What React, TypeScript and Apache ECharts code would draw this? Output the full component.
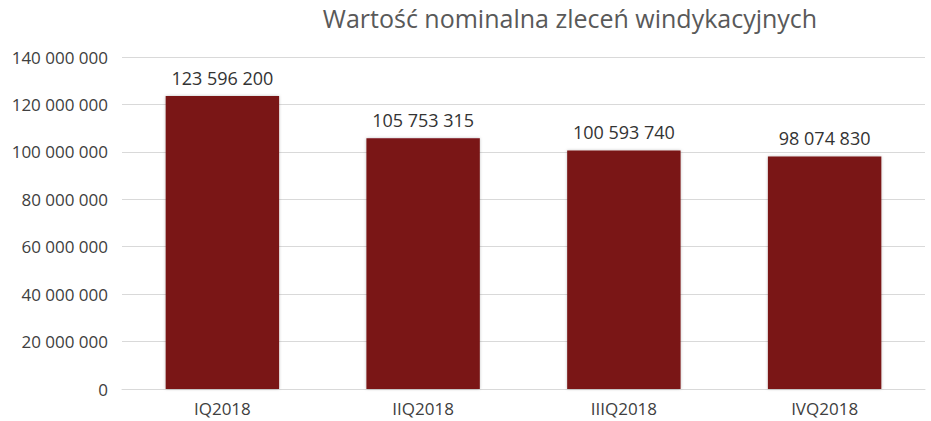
import React, { useEffect, useRef } from "react";
import * as echarts from "echarts";

const categories = ["IQ2018", "IIQ2018", "IIIQ2018", "IVQ2018"];
const values = [123596200, 105753315, 100593740, 98074830];
const title = "Wartość nominalna zleceń windykacyjnych";

const fmt = (v: number) => String(Math.round(v)).replace(/\B(?=(\d{3})+(?!\d))/g, " ");

export default function App() {
  const ref = useRef<HTMLDivElement>(null);
  useEffect(() => {
    const chart = echarts.init(ref.current!, null, { renderer: "svg" });
    chart.setOption({
      animation: false,
      backgroundColor: "#ffffff",
      title: {
        text: title,
        left: 565,
        textAlign: "center",
        top: 0,
        textStyle: { fontFamily: "Open Sans", fontSize: 25, fontWeight: "normal", color: "#595959" },
      },
      grid: { left: 122, right: 6, top: 57, bottom: 32 },
      xAxis: {
        type: "category",
        data: categories,
        axisLine: { show: true, lineStyle: { color: "#d9d9d9" } },
        axisTick: { show: false },
        axisLabel: { fontFamily: "Open Sans", fontSize: 17, color: "#404040", margin: 11 },
      },
      yAxis: {
        type: "value",
        min: 0,
        max: 140000000,
        interval: 20000000,
        axisLine: { show: false },
        axisTick: { show: false },
        splitLine: { lineStyle: { color: "#d9d9d9" } },
        axisLabel: {
          fontFamily: "Open Sans",
          fontSize: 17,
          color: "#404040",
          margin: 14,
          formatter: (v: number) => fmt(v),
        },
      },
      series: [
        {
          type: "bar",
          data: values,
          barWidth: "56.5%",
          itemStyle: { color: "#7a1517", shadowColor: "rgba(0,0,0,0.25)", shadowBlur: 3 },
          label: {
            show: true,
            position: "top",
            distance: 9,
            fontFamily: "Open Sans",
            fontSize: 18,
            color: "#333333",
            formatter: (p: any) => fmt(p.value),
          },
        },
      ],
    });
    return () => chart.dispose();
  }, []);
  return <div ref={ref} style={{ position: "fixed", left: 0, top: 0, width: 931, height: 421 }} />;
}
